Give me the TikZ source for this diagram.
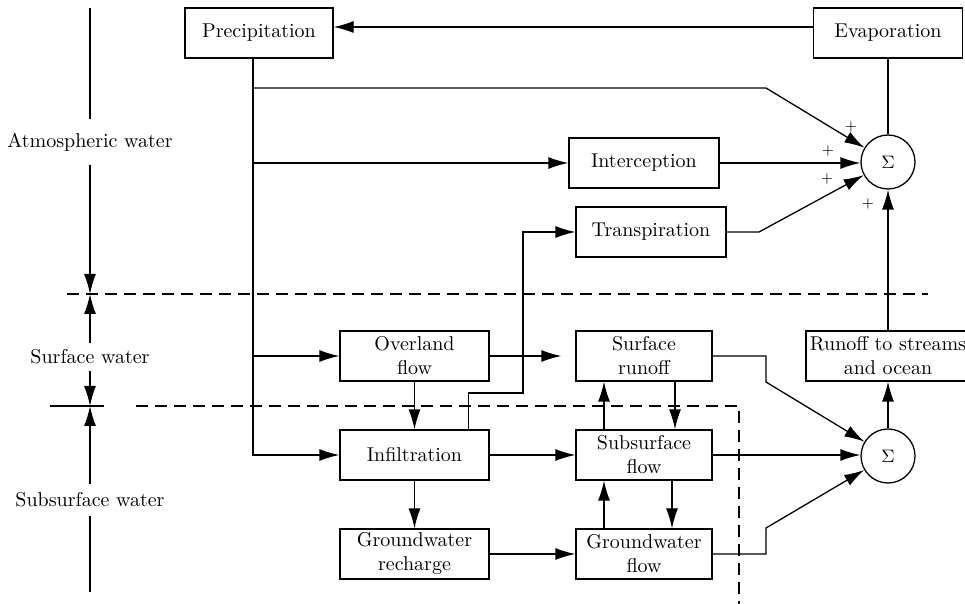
\documentclass[tikz,border=0pt]{standalone}
\usetikzlibrary{arrows.meta}

\tikzset{
  blok/.style={draw, inner sep=0pt, minimum height=25pt, align=center},
  suma/.style={draw, circle, inner sep=0pt, minimum size=27pt, font=\small},
  sipka/.style={-{Latex[length=10pt,width=6pt]}},
  osa/.style={inner xsep=0pt},
  plus/.style={font=\scriptsize, inner sep=0pt},
  carkovana/.style={dash pattern=on 6pt off 3.5pt}
}

\begin{document}
\begin{tikzpicture}[x=0.5pt, y=-0.5pt, line width=0.65pt]
  \useasboundingbox (0,0) rectangle (965,604);

  % bloky
  \node[blok, minimum width=74pt] (precip) at (259,33) {Precipitation};
  \node[blok, minimum width=74.5pt] (evap) at (888,33) {Evaporation};
  \node[blok, minimum width=75pt] (interc) at (644,163) {Interception};
  \node[blok, minimum width=75pt] (transp) at (651,232) {Transpiration};
  \node[blok, minimum width=74.5pt] (overl) at (414.5,356) {Overland\\flow};
  \node[blok, minimum width=74.5pt] (infil) at (414.5,455) {Infiltration};
  \node[blok, minimum width=74.5pt] (gwr) at (414.5,554) {Groundwater\\recharge};
  \node[blok, minimum width=68pt] (surfr) at (644,356) {Surface\\runoff};
  \node[blok, minimum width=68pt] (subs) at (644,455) {Subsurface\\flow};
  \node[blok, minimum width=68pt] (gwf) at (644,554) {Groundwater\\flow};
  \node[blok, minimum width=82pt] (runoff) at (888,356) {Runoff to streams\\and ocean};

  % součty
  \node[suma] (sum1) at (888,162) {$\Sigma$};
  \node[suma] (sum2) at (888,456) {$\Sigma$};

  % znaménka
  \node[plus] (p1) at (851,127) {+};
  \node[plus] (p2) at (828,151) {+};
  \node[plus] (p3) at (827,179) {+};
  \node[plus] (p4) at (868,204) {+};

  % body lomených čar
  \coordinate (kmen) at ([xshift=-3pt]precip.south);
  \coordinate (k1) at (766,88);
  \coordinate (k2) at (759,232);
  \coordinate (k3) at (523,393);
  \coordinate (k4) at (766,382);
  \coordinate (k5) at (766,528);

  % atmosféra
  \draw[sipka] ([yshift=3pt]evap.west) -- ([yshift=3pt]precip.east);
  \draw[sipka] (kmen) |- (infil.west);
  \draw[sipka] (kmen |- overl.west) -- (overl.west);
  \draw[sipka] (kmen |- interc.west) -- (interc.west);
  \draw[sipka] (kmen |- k1) -- (k1) -- (sum1);
  \draw[sipka] (interc.east) -- (interc.east -| sum1.west);
  \draw[sipka] (transp.east) -- (k2) -- (sum1);
  \draw (evap.south) -- (sum1.north);
  \draw[sipka] (runoff.north) -- (sum1.south);

  % povrch a podpovrch
  \draw[sipka] ([xshift=-10.5pt]infil.north east) |- (k3) |- (transp.west);
  \draw[sipka, shorten >=7pt] (overl.east) -- (surfr.west);
  \draw[sipka] (overl.south) -- (infil.north);
  \draw[sipka] (infil.east) -- (subs.west);
  \draw[sipka] (infil.south) -- (gwr.north);
  \draw[sipka] (gwr.east) -- (gwf.west);
  \draw[sipka] ([xshift=15.5pt]surfr.south) -- ([xshift=15.5pt]subs.north);
  \draw[sipka] ([xshift=-20pt]subs.north) -- ([xshift=-20pt]surfr.south);
  \draw[sipka] ([xshift=14pt]subs.south) -- ([xshift=14pt]gwf.north);
  \draw[sipka] ([xshift=-20pt]gwf.north) -- ([xshift=-20pt]subs.south);
  \draw[sipka] (surfr.east) -| (k4) -- (sum2);
  \draw[sipka] (subs.east) -- (subs.east -| sum2.west);
  \draw[sipka] (gwf.east) -| (k5) -- (sum2);
  \draw[sipka] (sum2.north) -- (runoff.south);

  % hranice
  \draw[carkovana] (67,294) -- (928,294);
  \draw[carkovana] (136,406) -- (739,406) -- (739,604);
  \draw (50,406) -- (104,406);

  % osa vlevo
  \coordinate (osa0) at (90,8);
  \coordinate (osa1) at (90,294);
  \coordinate (osa2) at (90,406);
  \coordinate (osa3) at (90,592);
  \node[osa, inner ysep=6.5pt] (atm) at (90,142) {Atmospheric water};
  \node[osa, inner ysep=3pt] (surf) at (90,357) {Surface water};
  \node[osa, inner ysep=4pt] (subsurf) at (90,500) {Subsurface water};
  \draw (osa0) -- (atm);
  \draw[sipka] (atm) -- (osa1);
  \draw[sipka] (surf) -- (osa1);
  \draw[sipka] (surf) -- (osa2);
  \draw[sipka] (subsurf) -- (osa2);
  \draw (subsurf) -- (osa3);
\end{tikzpicture}
\end{document}
